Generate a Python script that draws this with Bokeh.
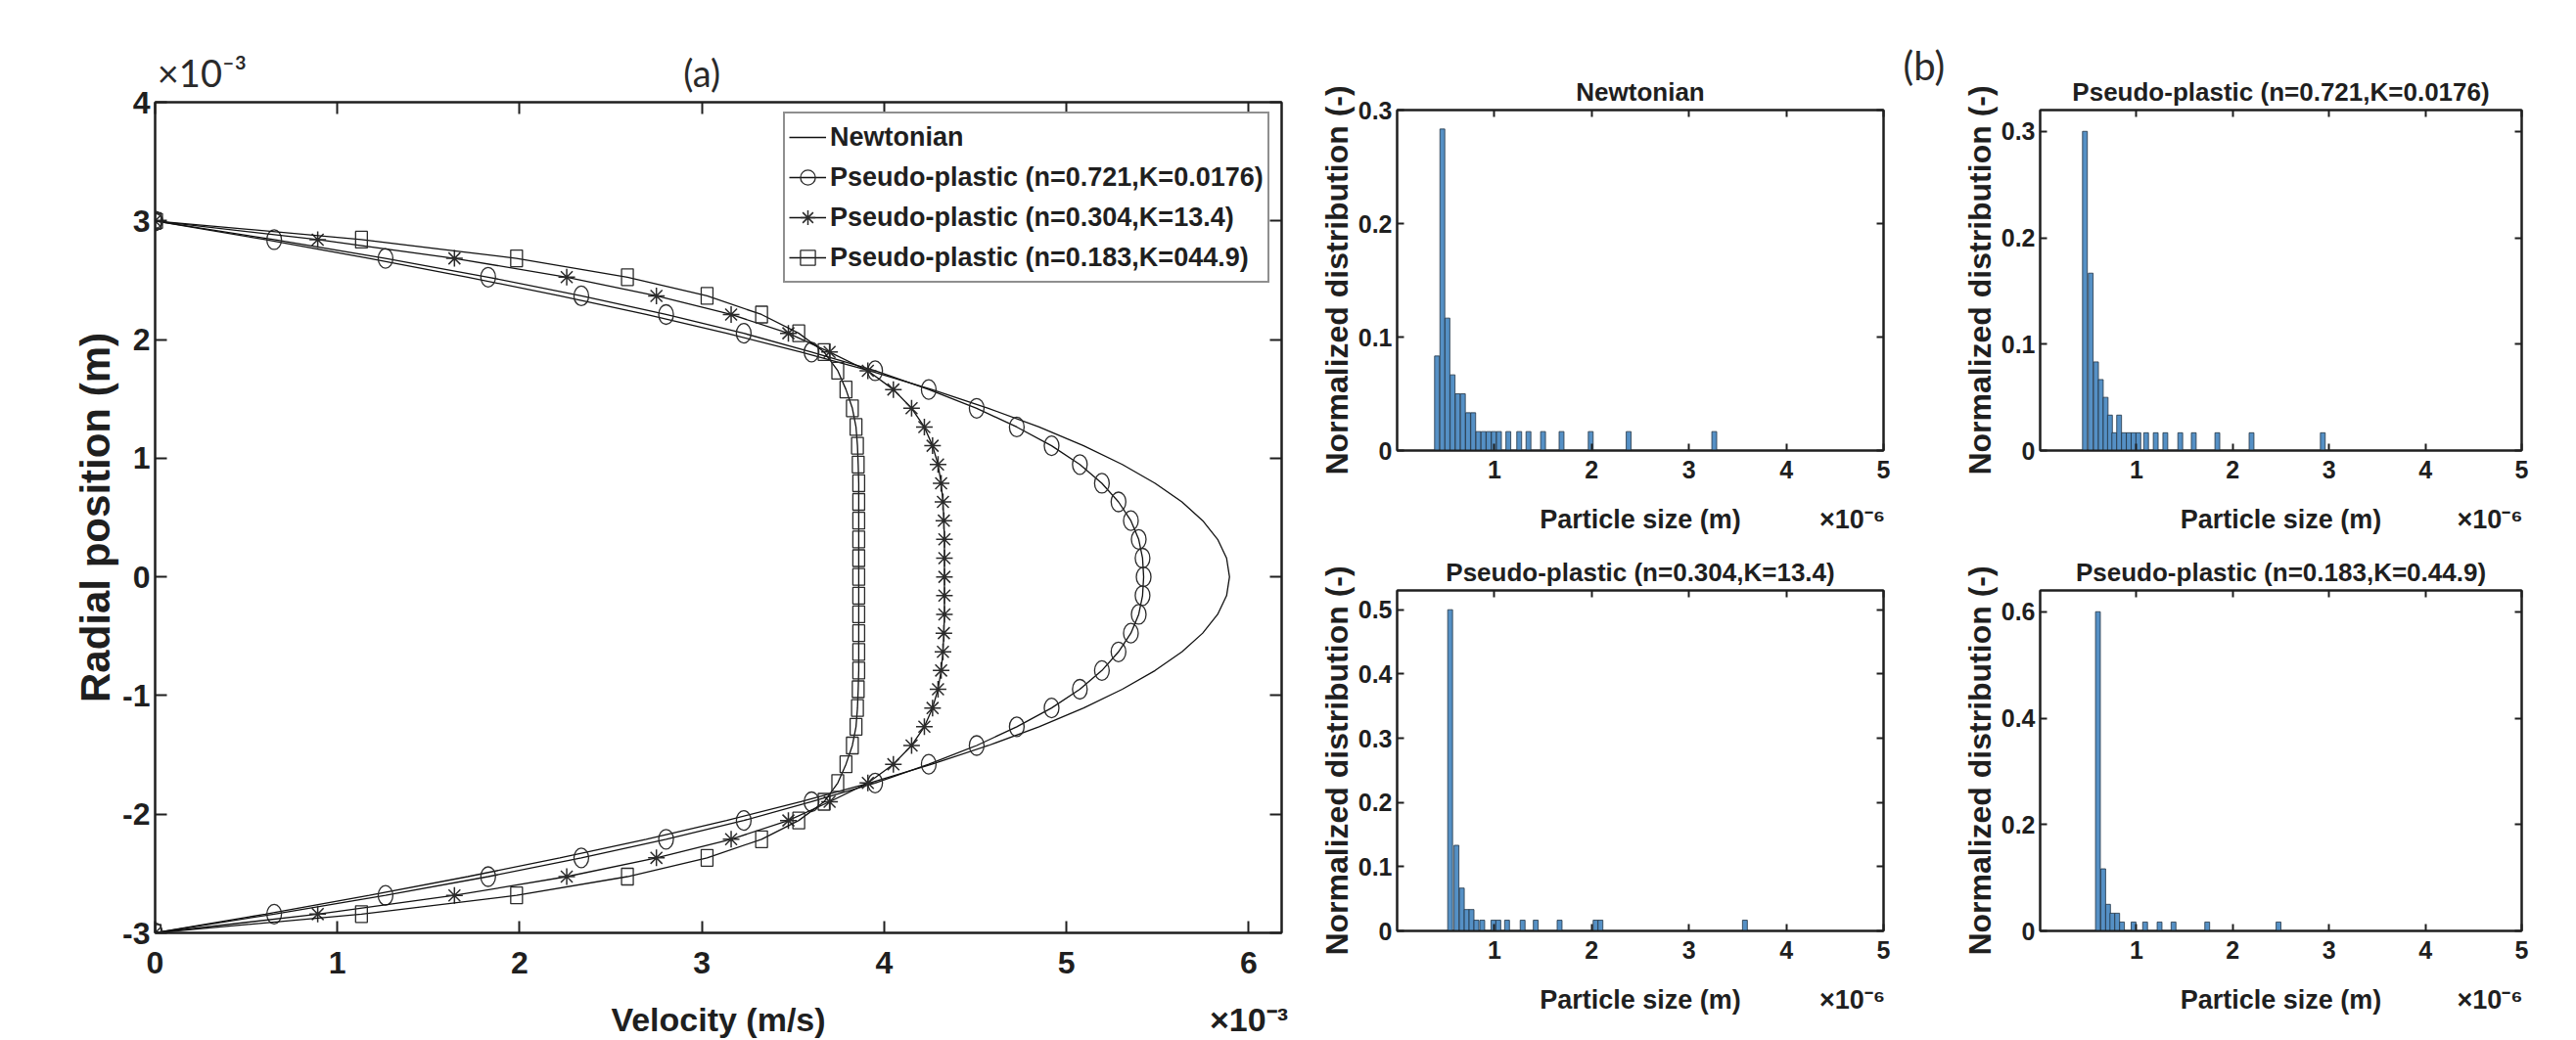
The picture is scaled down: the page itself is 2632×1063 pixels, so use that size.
from bokeh.plotting import figure
from bokeh.models import Range1d, LinearAxis, FixedTicker, Legend, LegendItem, Title
from bokeh.layouts import row, column
from bokeh.embed import file_html
from bokeh.resources import INLINE

FONT = "Liberation Sans"
INK = "#1f1f1f"

# ---------------- (a) velocity profiles (velocity x1e-3 m/s, radial position x1e-3 m) ----------------
radial_pos = [3.0, 2.842, 2.684, 2.526, 2.368, 2.211, 2.053, 1.895, 1.737, 1.579, 1.421, 1.263,
              1.105, 0.947, 0.789, 0.632, 0.474, 0.316, 0.158, 0.0, -0.158, -0.316, -0.474,
              -0.632, -0.789, -0.947, -1.105, -1.263, -1.421, -1.579, -1.737, -1.895, -2.053,
              -2.211, -2.368, -2.526, -2.684, -2.842, -3.0]
vel_newtonian = [0.0, 0.604, 1.175, 1.715, 2.220, 2.694, 3.135, 3.543, 3.918, 4.261, 4.571, 4.849,
                 5.094, 5.306, 5.486, 5.633, 5.747, 5.829, 5.878, 5.894, 5.878, 5.829, 5.747,
                 5.633, 5.486, 5.306, 5.094, 4.849, 4.571, 4.261, 3.918, 3.543, 3.135, 2.694,
                 2.220, 1.715, 1.175, 0.604, 0.0]
vel_n0721 = [0.0, 0.653, 1.264, 1.827, 2.338, 2.803, 3.229, 3.601, 3.950, 4.244, 4.507, 4.727,
             4.918, 5.073, 5.194, 5.285, 5.353, 5.396, 5.417, 5.423, 5.417, 5.396, 5.353, 5.285,
             5.194, 5.073, 4.918, 4.727, 4.507, 4.244, 3.950, 3.601, 3.229, 2.803, 2.338, 1.827,
             1.264, 0.653, 0.0]
vel_n0304 = [0.0, 0.892, 1.642, 2.258, 2.750, 3.160, 3.474, 3.700, 3.910, 4.050, 4.150, 4.220,
             4.265, 4.295, 4.312, 4.322, 4.327, 4.330, 4.330, 4.330, 4.330, 4.330, 4.327, 4.322,
             4.312, 4.295, 4.265, 4.220, 4.150, 4.050, 3.910, 3.700, 3.474, 3.160, 2.750, 2.258,
             1.642, 0.892, 0.0]
vel_n0183 = [0.0, 1.132, 1.983, 2.591, 3.028, 3.327, 3.531, 3.670, 3.745, 3.790, 3.825, 3.845,
             3.853, 3.857, 3.860, 3.860, 3.860, 3.860, 3.860, 3.860, 3.860, 3.860, 3.860, 3.860,
             3.860, 3.857, 3.853, 3.845, 3.825, 3.790, 3.745, 3.670, 3.531, 3.327, 3.028, 2.591,
             1.983, 1.132, 0.0]
vel_ticks = [0, 1, 2, 3, 4, 5, 6]
pos_ticks = [-3, -2, -1, 0, 1, 2, 3, 4]
legend_labels = ["Newtonian", "Pseudo-plastic (n=0.721,K=0.0176)",
                 "Pseudo-plastic (n=0.304,K=13.4)", "Pseudo-plastic (n=0.183,K=044.9)"]

# ---------------- (b) particle size distributions (size x1e-6 m) ----------------
size_newtonian = [0.41, 0.465, 0.517, 0.57, 0.623, 0.676, 0.729, 0.782, 0.835, 0.888, 0.941,
                  0.994, 1.047, 1.143, 1.255, 1.35, 1.50, 1.69, 1.99, 2.38, 3.26]
dist_newtonian = [0.0833, 0.2833, 0.1167, 0.0667, 0.05, 0.05, 0.0333, 0.0333, 0.0167, 0.0167,
                  0.0167, 0.0167, 0.0167, 0.0167, 0.0167, 0.0167, 0.0167, 0.0167, 0.0167, 0.0167,
                  0.0167]
size_n0721 = [0.465, 0.525, 0.58, 0.63, 0.68, 0.725, 0.77, 0.82, 0.87, 0.92, 0.97, 1.02, 1.10,
              1.20, 1.30, 1.455, 1.595, 1.84, 2.195, 2.935]
dist_n0721 = [0.30, 0.1667, 0.0833, 0.0667, 0.05, 0.0333, 0.0167, 0.0333, 0.0167, 0.0167, 0.0167,
              0.0167, 0.0167, 0.0167, 0.0167, 0.0167, 0.0167, 0.0167, 0.0167, 0.0167]
size_n0304 = [0.545, 0.61, 0.665, 0.715, 0.765, 0.815, 0.875, 0.99, 1.04, 1.13, 1.29, 1.425,
              1.67, 2.04, 2.09, 3.575]
dist_n0304 = [0.50, 0.1333, 0.0667, 0.0333, 0.0333, 0.0167, 0.0167, 0.0167, 0.0167, 0.0167,
              0.0167, 0.0167, 0.0167, 0.0167, 0.0167, 0.0167]
size_n0183 = [0.60, 0.655, 0.705, 0.75, 0.80, 0.85, 0.97, 1.09, 1.24, 1.385, 1.735, 2.475]
dist_n0183 = [0.60, 0.1167, 0.05, 0.0333, 0.0333, 0.0167, 0.0167, 0.0167, 0.0167, 0.0167,
              0.0167, 0.0167]
hist_titles = ["Newtonian", "Pseudo-plastic (n=0.721,K=0.0176)",
               "Pseudo-plastic (n=0.304,K=13.4)", "Pseudo-plastic (n=0.183,K=0.44.9)"]
size_ticks = [1, 2, 3, 4, 5]


def base_axis(ax, fs, tlen, bold=True, font=FONT):
    ax.major_tick_in = tlen
    ax.major_tick_out = 0
    ax.minor_tick_line_color = None
    ax.axis_line_color = INK
    ax.axis_line_width = 2
    ax.major_tick_line_color = INK
    ax.major_tick_line_width = 2
    ax.major_label_text_font = font
    ax.major_label_text_font_style = "bold" if bold else "normal"
    ax.major_label_text_font_size = fs
    ax.major_label_text_color = INK


def text_axis(p, side, ticks, labels, fs, standoff, bold=True, font=FONT, color=INK):
    """An axis that only carries texts (no line, no tick marks)."""
    ax = LinearAxis(ticker=FixedTicker(ticks=ticks),
                    major_label_overrides=dict(zip(ticks, labels)))
    base_axis(ax, fs, 0, bold, font)
    ax.axis_line_color = None
    ax.major_tick_line_color = None
    ax.major_label_standoff = standoff
    ax.major_label_text_color = color
    p.add_layout(ax, side)
    return ax


def style_box(p, xticks, yticks, ytext, fs, tlen, xso, yso):
    bx = p.below[0]
    ly = p.left[0]
    bx.ticker = FixedTicker(ticks=xticks)
    ly.ticker = FixedTicker(ticks=yticks)
    base_axis(bx, fs, tlen)
    base_axis(ly, fs, tlen)
    bx.major_label_overrides = {t: str(t) for t in xticks}
    ly.major_label_overrides = dict(zip(yticks, ytext))
    bx.major_label_standoff = xso
    ly.major_label_standoff = yso
    rt = LinearAxis(ticker=FixedTicker(ticks=yticks),
                    major_label_overrides={t: "" for t in yticks})
    base_axis(rt, "0px", tlen)
    rt.major_label_standoff = 0
    p.add_layout(rt, "right")
    p.xgrid.visible = False
    p.ygrid.visible = False
    p.outline_line_color = INK
    p.outline_line_width = 2
    p.background_fill_color = "white"
    p.border_fill_color = "white"


# ---------------- figure (a) ----------------
pa = figure(width=1330, height=1063, x_range=Range1d(0, 6.18), y_range=Range1d(-3, 4),
            output_backend="svg", toolbar_location=None, title_location=None,
            min_border_left=158, min_border_right=21, min_border_top=104, min_border_bottom=110)
style_box(pa, vel_ticks, pos_ticks, [str(t) for t in pos_ticks], "32px", 12, 19, 5)
pa.left[0].axis_label = "Radial position (m)"
pa.left[0].axis_label_text_font = FONT
pa.left[0].axis_label_text_font_style = "bold"
pa.left[0].axis_label_text_font_size = "42px"
pa.left[0].axis_label_text_color = INK
pa.left[0].axis_label_standoff = 1

# top axis: tick marks as minor ticks, texts "x10^-3" and "(a)" as labels
top_a = LinearAxis(ticker=FixedTicker(ticks=[0.258, 3.0], minor_ticks=vel_ticks),
                   major_label_overrides={0.258: "\u00d710\u207b\u00b3", 3.0: "(a)"})
base_axis(top_a, "38px", 0, bold=False, font="Lato")
top_a.major_label_text_color = "#2a2a2a"
top_a.major_tick_line_color = None
top_a.minor_tick_line_color = INK
top_a.minor_tick_line_width = 2
top_a.minor_tick_in = 12
top_a.minor_tick_out = 0
top_a.major_label_standoff = 8
pa.add_layout(top_a, "above")
# second bottom axis: axis title and exponent
text_axis(pa, "below", [3.09, 6.0], ["Velocity (m/s)", "\u00d710\u207b\u00b3"], "34px", 25)

MK = "#2b2b2b"
l_newt = pa.line(vel_newtonian, radial_pos, line_color="#111111", line_width=1.3)
l_c = pa.line(vel_n0721, radial_pos, line_color="#111111", line_width=1.3)
pa.ellipse(vel_n0721, radial_pos, width=15, height=20, width_units="screen",
           height_units="screen", fill_color=None, line_color=MK, line_width=1.3)
l_s = pa.line(vel_n0304, radial_pos, line_color="#111111", line_width=1.3)
m_s = pa.scatter(vel_n0304, radial_pos, marker="asterisk", size=17, line_color=MK,
                 line_width=1.5)
l_q = pa.line(vel_n0183, radial_pos, line_color="#111111", line_width=1.3)
pa.rect(vel_n0183, radial_pos, width=12, height=17, width_units="screen",
        height_units="screen", fill_color=None, line_color=MK, line_width=1.3)
# legend markers (drawn on the shared wall point where all markers overlap)
g_c = pa.scatter(vel_n0721[:1], radial_pos[:1], marker="circle", size=15, fill_color=None,
                 line_color=MK, line_width=1.3)
g_q = pa.scatter(vel_n0183[:1], radial_pos[:1], marker="square", size=15, fill_color=None,
                 line_color=MK, line_width=1.3)

legend = Legend(items=[
    LegendItem(label=legend_labels[0], renderers=[l_newt]),
    LegendItem(label=legend_labels[1], renderers=[l_c, g_c]),
    LegendItem(label=legend_labels[2], renderers=[l_s, m_s]),
    LegendItem(label=legend_labels[3], renderers=[l_q, g_q]),
], location=(642, 664))
legend.border_line_color = INK
legend.border_line_width = 2
legend.background_fill_color = "white"
legend.background_fill_alpha = 1.0
legend.padding = 4
legend.spacing = 1
legend.margin = 0
legend.glyph_width = 38
legend.glyph_height = 40
legend.label_height = 40
legend.label_standoff = 4
legend.label_text_font = FONT
legend.label_text_font_style = "bold"
legend.label_text_font_size = "27px"
legend.label_text_color = INK
pa.add_layout(legend)


# ---------------- figures (b) ----------------
def hist_fig(w, h, bl, br, bt, bb, ymax, yticks, ytext, sizes, dists, title, exp_x):
    p = figure(width=w, height=h, x_range=Range1d(0, 5), y_range=Range1d(0, ymax),
               output_backend="svg", toolbar_location=None, title_location=None,
               min_border_left=bl, min_border_right=br, min_border_top=bt, min_border_bottom=bb)
    style_box(p, size_ticks, yticks, ytext, "25px", 7, 10, 5)
    ly = p.left[0]
    ly.axis_label = "Normalized distribution (-)"
    ly.axis_label_text_font = FONT
    ly.axis_label_text_font_style = "bold"
    ly.axis_label_text_font_size = "32px"
    ly.axis_label_text_color = INK
    ly.axis_label_standoff = 1
    tp = LinearAxis(ticker=FixedTicker(ticks=size_ticks),
                    major_label_overrides={t: "" for t in size_ticks})
    base_axis(tp, "0px", 7)
    tp.major_label_standoff = 0
    p.add_layout(tp, "above")
    p.add_layout(Title(text=title, align="center", text_font=FONT, text_font_style="bold",
                       text_font_size="26px", text_color=INK, standoff=7), "above")
    text_axis(p, "below", [2.5, exp_x], ["Particle size (m)", "\u00d710\u207b\u2076"], "27px", 24)
    p.vbar(x=sizes, top=dists, width=0.05, bottom=0, fill_color="#5590c5", fill_alpha=1.0,
           line_color="#223344", line_width=0.8)
    return p


h1 = hist_fig(671, 555, 97, 77, 112, 95, 0.3, [0, 0.1, 0.2, 0.3], ["0", "0.1", "0.2", "0.3"],
              size_newtonian, dist_newtonian, hist_titles[0], 4.68)
h2 = hist_fig(631, 555, 78, 56, 112, 95, 0.32, [0, 0.1, 0.2, 0.3], ["0", "0.1", "0.2", "0.3"],
              size_n0721, dist_n0721, hist_titles[1], 4.67)
h3 = hist_fig(671, 508, 97, 77, 48, 112, 0.53, [0, 0.1, 0.2, 0.3, 0.4, 0.5],
              ["0", "0.1", "0.2", "0.3", "0.4", "0.5"],
              size_n0304, dist_n0304, hist_titles[2], 4.68)
h4 = hist_fig(631, 508, 78, 56, 48, 112, 0.64, [0, 0.2, 0.4, 0.6], ["0", "0.2", "0.4", "0.6"],
              size_n0183, dist_n0183, hist_titles[3], 4.67)
# panel letter (b), carried by an extra right-hand axis of the first histogram
text_axis(h1, "right", [0.29], ["(b)\n\u00a0\n\u00a0"], "40px", 20, bold=False, font="Lato",
          color="#2a2a2a")

layout = row(pa, column(row(h1, h2), row(h3, h4)))
open("out.html", "w").write(file_html(layout, INLINE))
